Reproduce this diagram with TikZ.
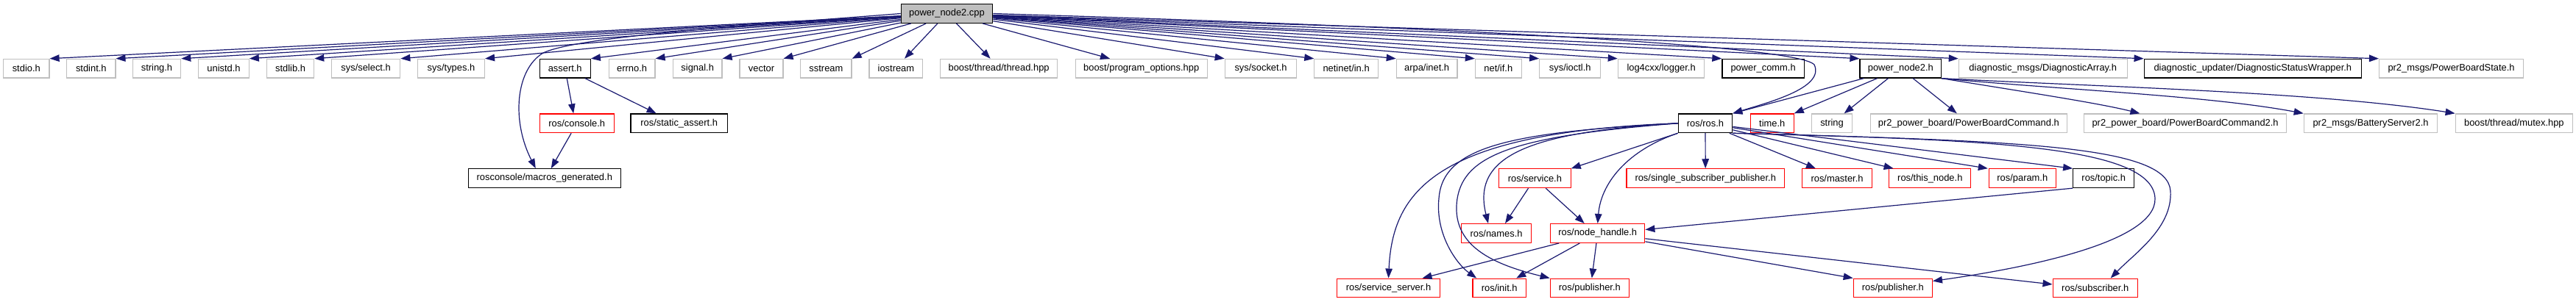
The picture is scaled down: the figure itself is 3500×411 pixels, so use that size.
\documentclass[tikz,border=0pt]{standalone}
\usepackage{fontspec}
\setmainfont{Liberation Sans}
\usetikzlibrary{arrows.meta}
\definecolor{edgec}{HTML}{191970}
\definecolor{grayb}{HTML}{BFBFBF}
\definecolor{redb}{HTML}{FF0000}
\tikzset{
 box/.style={draw, rectangle, minimum height=25.7pt, inner sep=0pt, line width=1.2pt, font=\fontsize{12.9pt}{15pt}\selectfont, text=black, fill=white},
 gbox/.style={box, draw=grayb},
 kbox/.style={box, draw=black},
 rbox/.style={box, draw=redb},
 rootbox/.style={box, draw=black, fill=grayb},
 edge/.style={draw=edgec, line width=1.2pt, -{Triangle[length=13pt,width=9.5pt]}},
}
\begin{document}
\begin{tikzpicture}[x=1pt,y=-1pt]
\useasboundingbox (0,0) rectangle (3500,411);
% root
\node[rootbox, minimum width=124.4pt] (root) at (1286.5,18.5) {power\_node2.cpp};
% row 1
\node[gbox, minimum width=62.4pt] (stdio) at (35.8,93.2) {stdio.h};
\node[gbox, minimum width=66.2pt] (stdint) at (123.8,93.2) {stdint.h};
\node[gbox, minimum width=65.4pt] (stringh) at (213,93.2) {string.h};
\node[gbox, minimum width=68.5pt] (unistd) at (304,93.2) {unistd.h};
\node[gbox, minimum width=64.3pt] (stdlib) at (394.5,93.2) {stdlib.h};
\node[gbox, minimum width=93.4pt] (select) at (497.1,93.2) {sys/select.h};
\node[gbox, minimum width=91pt] (types) at (613,93.2) {sys/types.h};
\node[kbox, minimum width=69.2pt] (assert) at (767.7,93.2) {assert.h};
\node[gbox, minimum width=62.8pt] (errno) at (858.6,93.2) {errno.h};
\node[gbox, minimum width=66.6pt] (signal) at (947.7,93.2) {signal.h};
\node[gbox, minimum width=58.9pt] (vector) at (1034.5,93.2) {vector};
\node[gbox, minimum width=69.2pt] (sstream) at (1122.4,93.2) {sstream};
\node[gbox, minimum width=72.7pt] (iostream) at (1217.4,93.2) {iostream};
\node[gbox, minimum width=159.2pt] (thread) at (1357.1,93.2) {boost/thread/thread.hpp};
\node[gbox, minimum width=179pt] (progopt) at (1550.7,93.2) {boost/program\_options.hpp};
\node[gbox, minimum width=97.5pt] (socket) at (1713,93.2) {sys/socket.h};
\node[gbox, minimum width=86.5pt] (netinet) at (1829.1,93.2) {netinet/in.h};
\node[gbox, minimum width=82.6pt] (arpa) at (1938.6,93.2) {arpa/inet.h};
\node[gbox, minimum width=62.8pt] (netif) at (2035.8,93.2) {net/if.h};
\node[gbox, minimum width=83pt] (ioctl) at (2133.2,93.2) {sys/ioctl.h};
\node[gbox, minimum width=117.5pt] (log4cxx) at (2257.1,93.2) {log4cxx/logger.h};
\node[kbox, minimum width=111.4pt] (powercomm) at (2395.6,93.2) {power\_comm.h};
\node[kbox, minimum width=110.6pt] (pnh) at (2582.3,93.2) {power\_node2.h};
\node[gbox, minimum width=228.8pt] (diagarr) at (2775.7,93.2) {diagnostic\_msgs/DiagnosticArray.h};
\node[kbox, minimum width=295.3pt] (diagwrap) at (3060.8,93.2) {diagnostic\_updater/DiagnosticStatusWrapper.h};
\node[gbox, minimum width=195.9pt] (pbstate) at (3330.5,93.2) {pr2\_msgs/PowerBoardState.h};
% row 2
\node[rbox, minimum width=100.6pt] (console) at (783.8,167.8) {ros/console.h};
\node[kbox, minimum width=131.3pt] (staticassert) at (922.7,167.8) {ros/static\_assert.h};
\node[kbox, minimum width=73.4pt] (ros) at (2317,167.8) {ros/ros.h};
\node[rbox, minimum width=58.9pt] (time) at (2407.7,167.8) {time.h};
\node[gbox, minimum width=55.5pt] (string) at (2489,167.8) {string};
\node[gbox, minimum width=267.1pt] (pbcmd) at (2674.8,167.8) {pr2\_power\_board/PowerBoardCommand.h};
\node[gbox, minimum width=275pt] (pbcmd2) at (2969.1,167.8) {pr2\_power\_board/PowerBoardCommand2.h};
\node[gbox, minimum width=181.4pt] (battery) at (3221,167.8) {pr2\_msgs/BatteryServer2.h};
\node[gbox, minimum width=159.2pt] (mutex) at (3415.8,167.8) {boost/thread/mutex.hpp};
% row 3
\node[kbox, minimum width=207pt] (macros) at (739.8,242.6) {rosconsole/macros\_generated.h};
\node[rbox, minimum width=97.5pt] (service) at (2085.4,242.7) {ros/service.h};
\node[rbox, minimum width=214.6pt] (ssp) at (2317.2,242.7) {ros/single\_subscriber\_publisher.h};
\node[rbox, minimum width=94.9pt] (master) at (2496,242.7) {ros/master.h};
\node[rbox, minimum width=111pt] (thisnode) at (2622.3,242.7) {ros/this\_node.h};
\node[rbox, minimum width=91pt] (param) at (2747.8,242.7) {ros/param.h};
\node[kbox, minimum width=83pt] (topic) at (2858.2,242.7) {ros/topic.h};
% row 4
\node[rbox, minimum width=95.3pt] (names) at (2033,317.5) {ros/names.h};
\node[rbox, minimum width=128.2pt] (nodehandle) at (2170.7,317.5) {ros/node\_handle.h};
% row 5
\node[rbox, minimum width=140pt] (srvserver) at (1886.5,392) {ros/service\_server.h};
\node[rbox, minimum width=72.3pt] (init) at (2037.2,392) {ros/init.h};
\node[rbox, minimum width=107.1pt] (pubA) at (2159.8,392) {ros/publisher.h};
\node[rbox, minimum width=107.1pt] (pubB) at (2571.8,392) {ros/publisher.h};
\node[rbox, minimum width=115.2pt] (sub) at (2846.7,392) {ros/subscriber.h};

% edges from root, left side
\foreach \t in {stdio,stdint,stringh,unistd,stdlib,select,types,assert,errno,signal,vector,sstream}
  \draw[edge] (root) -- (\t.north east);
\draw[edge] (root) -- ([xshift=11.6pt]iostream.north);
\draw[edge] (root) -- ([xshift=-11.5pt]thread.north);
\draw[edge] (root) -- ([xshift=-42.7pt]progopt.north);
\foreach \t in {socket,netinet,arpa,netif,ioctl,log4cxx,powercomm,pnh,diagarr,diagwrap,pbstate}
  \draw[edge] (root) -- (\t.north west);
% root to macros (curved)
\draw[edge] (root.west) .. controls (1000,36) and (785,50) .. (738,72) .. controls (700,95) and (695,165) .. ([xshift=-12pt]macros.north);
% root to ros.h (curved)
\draw[edge] (root.east) .. controls (1900,35) and (2440,60) .. (2465,88) .. controls (2480,120) and (2400,140) .. (ros.north east);
% assert
\draw[edge] (assert) -- ([xshift=-4.6pt]console.north);
\draw[edge] (assert) -- ([xshift=-31pt]staticassert.north);
\draw[edge] (console) -- ([xshift=9pt]macros.north);
% power_node2.h
\draw[edge] (pnh) -- (ros.north east);
\draw[edge] (pnh) -- (time.north east);
\draw[edge] (pnh) -- ([xshift=16.6pt]string.north);
\draw[edge] (pnh) -- ([xshift=-16pt]pbcmd.north);
\draw[edge] (pnh.south east) .. controls (2750,125) and (2850,140) .. ([xshift=-61.7pt]pbcmd2.north);
\draw[edge] (pnh.south east) .. controls (2800,122) and (3000,130) .. (battery.north west);
\draw[edge] (pnh.south east) .. controls (2850,118) and (3150,125) .. (mutex.north west);
% ros.h fan
\draw[edge] (ros) -- (ssp);
\draw[edge] (ros.south west) -- (service.north east);
\draw[edge] (ros.south west) .. controls (2210,205) and (2175,250) .. (nodehandle.north);
\draw[edge] (ros.west) .. controls (2070,180) and (2000,215) .. ([xshift=-11pt]names.north);
\draw[edge] (ros.west) .. controls (1950,180) and (1892,260) .. (srvserver.north);
\draw[edge] (ros.west) .. controls (2050,180) and (1960,200) .. (1955,270) .. controls (1950,320) and (1980,360) .. ([xshift=-31pt]init.north);
\draw[edge] (ros.west) .. controls (2060,185) and (1990,210) .. (1980,270) .. controls (1970,335) and (2030,360) .. (pubA.north west);
\draw[edge] (ros) -- ([xshift=-29pt]master.north);
\draw[edge] (ros) -- ([xshift=-49.7pt]thisnode.north);
\draw[edge] (ros) -- ([xshift=-47pt]param.north);
\draw[edge] (ros) -- (topic.north west);
\draw[edge] (ros.south east) .. controls (2700,190) and (2925,198) .. (2928,270) .. controls (2930,330) and (2750,365) .. ([yshift=-4pt]pubB.north east);
\draw[edge] (ros.south east) .. controls (2750,192) and (2945,198) .. (2949,260) .. controls (2952,310) and (2900,345) .. ([xshift=21pt]sub.north);
% service.h
\draw[edge] (service) -- ([xshift=12pt]names.north);
\draw[edge] (service) -- ([xshift=-18pt]nodehandle.north);
% topic
\draw[edge] (topic.south west) -- ([yshift=5pt]nodehandle.east);
% node_handle
\draw[edge] (nodehandle) -- ([xshift=46pt]srvserver.north);
\draw[edge] (nodehandle) -- ([xshift=23pt]init.north);
\draw[edge] (nodehandle) -- ([xshift=3pt]pubA.north);
\draw[edge] (nodehandle) -- (pubB.north west);
\draw[edge] (nodehandle) -- ([yshift=5pt]sub.west);
\end{tikzpicture}
\end{document}
